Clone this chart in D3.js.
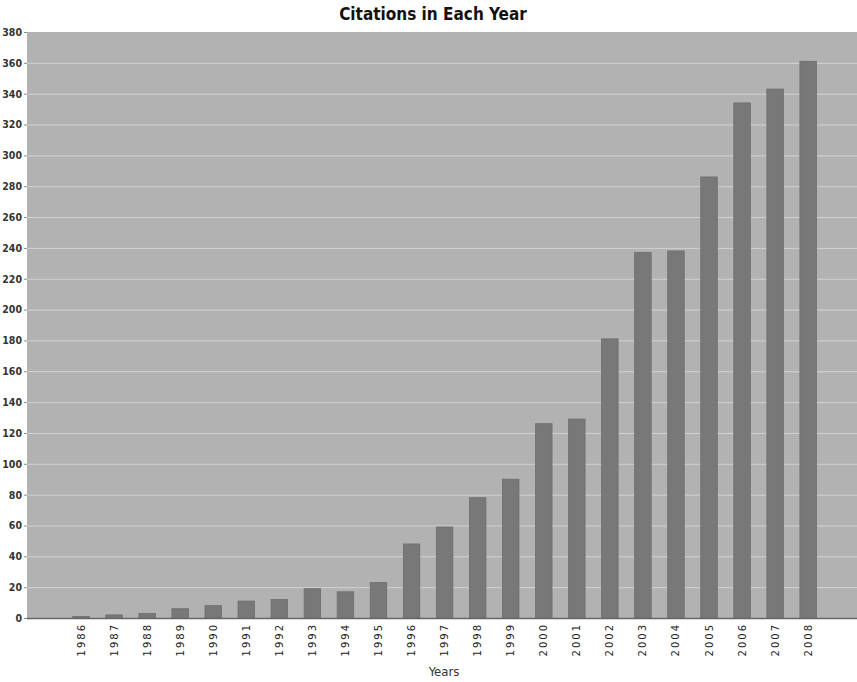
<!DOCTYPE html>
<html><head><meta charset="utf-8">
<script src="https://cdn.jsdelivr.net/npm/d3@7"></script>
<style>
html,body{margin:0;padding:0;background:#fff;}
svg{display:block;}
.cond{font-family:'DejaVu Sans Condensed','DejaVu Sans',sans-serif;font-stretch:condensed;}
</style></head>
<body>
<svg id="chart" width="857" height="682"></svg>
<script>
const title = "Citations in Each Year";
const xTitle = "Years";
const years = ["1986","1987","1988","1989","1990","1991","1992","1993","1994","1995","1996","1997","1998","1999","2000","2001","2002","2003","2004","2005","2006","2007","2008"];
const citations = [1,2,3,6,8,11,12,19,17,23,48,59,78,90,126,129,181,237,238,286,334,343,361];
const yTicks = [0,20,40,60,80,100,120,140,160,180,200,220,240,260,280,300,320,340,360,380];

const W = 857, H = 682;
const plot = {left: 27, right: 857, top: 32, bottom: 618};
const svg = d3.select("#chart");

const x = d3.scaleBand().domain(years).range([64.5, 824.7]).paddingInner(0.5).paddingOuter(0.25);
const y = d3.scaleLinear().domain([0, 380]).range([plot.bottom, plot.top]);

// plot background
svg.append("rect").attr("x", plot.left).attr("y", plot.top)
  .attr("width", plot.right - plot.left).attr("height", plot.bottom - plot.top)
  .attr("fill", "#b2b2b2");

// gridlines
svg.append("g").selectAll("line").data(yTicks.filter(d => d > 0 && d < 380)).join("line")
  .attr("x1", plot.left).attr("x2", plot.right)
  .attr("y1", d => y(d) + 0.5).attr("y2", d => y(d) + 0.5)
  .attr("stroke", "#d2d2d2").attr("stroke-width", 1);

// bars
svg.append("g").selectAll("rect").data(years).join("rect")
  .attr("x", d => x(d)).attr("width", x.bandwidth())
  .attr("y", (d, i) => y(citations[i]))
  .attr("height", (d, i) => plot.bottom - y(citations[i]))
  .attr("fill", "#787878").attr("stroke", "#6e6e6e").attr("stroke-width", 0.8);

// y axis
const yAxis = d3.axisLeft(y).tickValues(yTicks).tickSize(3).tickPadding(2).tickFormat(d3.format("d"));
const ya = svg.append("g").attr("transform", `translate(${plot.left},0)`).call(yAxis);
ya.select(".domain").remove();
ya.selectAll("line").attr("stroke", "#888");
ya.selectAll("text").attr("class", "cond").attr("font-family", null)
  .attr("font-size", 10.5).attr("font-weight", "bold").attr("fill", "#333");

// x axis
const xAxis = d3.axisBottom(x).tickSize(0).tickPadding(0);
const xa = svg.append("g").attr("transform", `translate(0,${plot.bottom})`).call(xAxis);
xa.select(".domain").remove();
svg.append("line").attr("x1", plot.left).attr("x2", plot.right)
  .attr("y1", plot.bottom + 0.5).attr("y2", plot.bottom + 0.5)
  .attr("stroke", "#666").attr("stroke-width", 1.5);
xa.selectAll("text")
  .attr("font-family", "'DejaVu Sans', sans-serif").attr("font-size", 10)
  .attr("letter-spacing", "2px").attr("fill", "#222")
  .attr("text-anchor", "end")
  .attr("transform", "translate(0,5) rotate(-90)")
  .attr("dx", 0).attr("dy", "0.35em").attr("y", 0);

// titles
svg.append("text").attr("class", "cond").attr("x", 433).attr("y", 20).attr("text-anchor", "middle")
  .attr("font-size", 17).attr("font-weight", "bold").attr("fill", "#111").text(title);
svg.append("text").attr("class", "cond").attr("x", 444).attr("y", 676).attr("text-anchor", "middle")
  .attr("font-size", 13).attr("fill", "#333").text(xTitle);
</script>
</body></html>
